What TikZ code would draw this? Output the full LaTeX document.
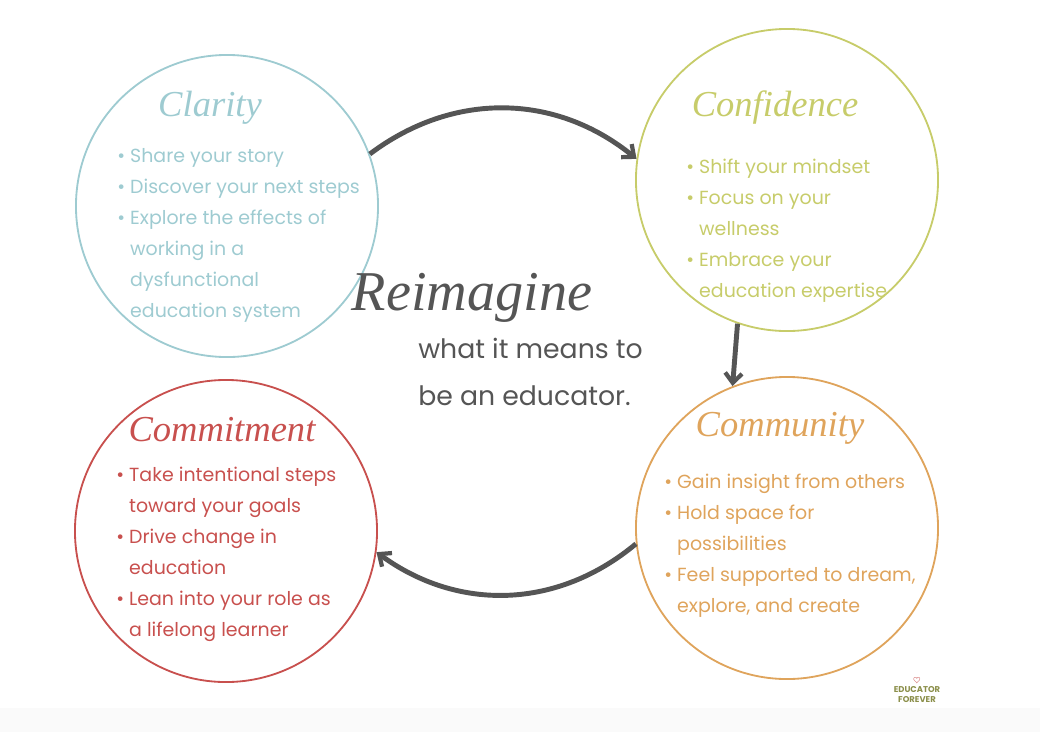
\documentclass[tikz,border=0pt]{standalone}
\usepackage{fontspec}
\setmainfont{Poppins}
\newfontfamily\scr{Liberation Serif}
\usetikzlibrary{arrows.meta}
\definecolor{cblue}{HTML}{9ECBD1}
\definecolor{cgreen}{HTML}{C7CC6A}
\definecolor{corange}{HTML}{DFA45C}
\definecolor{cred}{HTML}{C8504E}
\definecolor{cgray}{HTML}{555555}
\tikzset{
 ring/.style={circle,draw=#1,line width=1.3pt,minimum size=7.55cm,inner sep=0pt},
 ttl/.style={text=#1,font=\scr\itshape\fontsize{26}{26}\selectfont},
 blt/.style={text=#1,anchor=north west,align=left,inner sep=0pt,font=\fontsize{13.5}{22}\selectfont},
 arr/.style={draw=cgray,line width=3.5pt,-{Straight Barb[length=7pt,width=12pt,line width=3pt]}},
}
\newcommand{\ind}{\phantom{\textbullet}\ }
\begin{document}
\begin{tikzpicture}[x=0.025cm,y=-0.025cm]
\useasboundingbox (0,0) rectangle (1040,732);
\fill[gray!4] (0,708) rectangle (1040,732);
\node[ring=cblue] (cla) at (227,206) {};
\node[ring=cgreen] (con) at (787,180) {};
\node[ring=corange] (com) at (787,528) {};
\node[ring=cred] (cmt) at (226,531) {};
\node[ttl=cblue] (tcla) at (210,108) {Clarity};
\node[ttl=cgreen] (tcon) at (775,108) {Confidence};
\node[ttl=corange] (tcom) at (780,428) {Community};
\node[ttl=cred] (tcmt) at (222,430) {Commitment};
\node[blt=cblue] (bcla) at (117,148) {\textbullet\ Share your story\\ \textbullet\ Discover your next steps\\ \textbullet\ Explore the effects of\\ \ind working in a\\ \ind dysfunctional\\ \ind education system};
\node[blt=cgreen] (bcon) at (686,159) {\textbullet\ Shift your mindset\\ \textbullet\ Focus on your\\ \ind wellness\\ \textbullet\ Embrace your\\ \ind education expertise};
\node[blt=corange] (bcom) at (664,474) {\textbullet\ Gain insight from others\\ \textbullet\ Hold space for\\ \ind possibilities\\ \textbullet\ Feel supported to dream,\\ \ind explore, and create};
\node[blt=cred] (bcmt) at (116,467) {\textbullet\ Take intentional steps\\ \ind toward your goals\\ \textbullet\ Drive change in\\ \ind education\\ \textbullet\ Lean into your role as\\ \ind a lifelong learner};
\node[text=cgray,font=\scr\itshape\fontsize{40}{40}\selectfont] (rei) at (472,298) {Reimagine};
\node[text=cgray,align=left,anchor=north west,inner sep=0pt,font=\fontsize{19}{33}\selectfont] (sub) at (418,338) {what it means to\\be an educator.};
\node[align=center,inner sep=0pt,text=cgreen!70!black,font=\bfseries\fontsize{6}{7}\selectfont] (logo) at (917,690) {\textcolor{cred}{$\heartsuit$}\\EDUCATOR\\FOREVER};
\draw[arr] (cla.20) to[bend left=38] (con.172);
\draw[arr] (con.-109) -- (com.111);
\draw[arr] (com.-174) to[bend left=38] (cmt.-8);
\end{tikzpicture}
\end{document}
